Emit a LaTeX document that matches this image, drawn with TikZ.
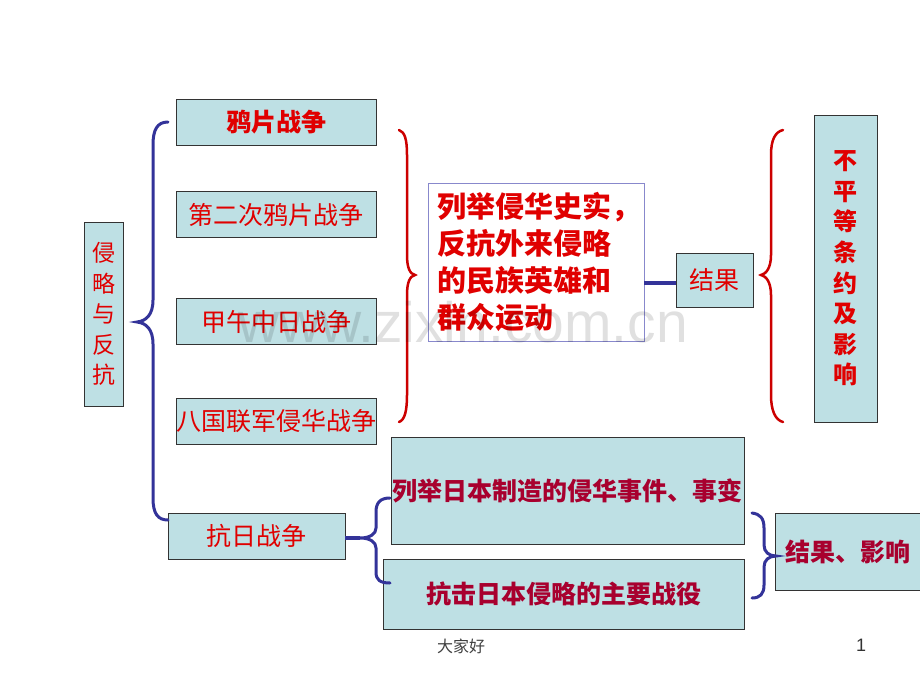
\documentclass[tikz,border=0pt]{standalone}
\usepackage{fontspec}
\setmainfont{Noto Sans CJK SC}
\newfontfamily\wmfont{Liberation Sans}
\definecolor{boxfill}{RGB}{190,224,228}
\definecolor{txtred}{HTML}{E00000}
\definecolor{txtdark}{HTML}{A8002E}
\definecolor{bluebr}{HTML}{333399}
\definecolor{redbr}{HTML}{CC0000}
\definecolor{lightframe}{HTML}{8888CC}
\tikzset{
  box/.style={draw=black!80, line width=0.8pt, fill=boxfill, inner sep=0pt, align=center},
  redtxt/.style={text=txtred},
  darktxt/.style={text=txtdark},
  bluebrace/.style={draw=bluebr, line width=3pt, line cap=round},
  redbrace/.style={draw=redbr, line width=2.5pt, line cap=round},
}
\begin{document}
\begin{tikzpicture}[x=1pt,y=-1pt]
\path[use as bounding box, fill=white] (0,0) rectangle (920,690);

% left column
\node[box, redtxt, minimum width=39pt, minimum height=184pt,
  font=\fontsize{23}{30.4}\selectfont] (qlfk) at (103.5,314) {侵\\略\\与\\反\\抗};
\node[box, redtxt, minimum width=200pt, minimum height=46pt,
  font=\fontsize{25}{30}\selectfont\bfseries] (ypzz) at (276,122) {鸦片战争};
\node[box, redtxt, minimum width=200pt, minimum height=46pt,
  font=\fontsize{25}{30}\selectfont] (decyp) at (276,214.5) {第二次鸦片战争};
\node[box, redtxt, minimum width=200pt, minimum height=46pt,
  font=\fontsize{25}{30}\selectfont] (jwzr) at (276,321.5) {甲午中日战争};
\node[box, redtxt, minimum width=200pt, minimum height=46pt,
  font=\fontsize{25}{30}\selectfont] (bglj) at (276,421) {八国联军侵华战争};
\node[box, redtxt, minimum width=177pt, minimum height=46pt,
  font=\fontsize{25}{30}\selectfont] (krzz) at (256.5,536) {抗日战争};

% middle top
\node[draw=lightframe, line width=0.8pt, fill=white, text=txtred, align=left,
  text width=198pt, inner xsep=9pt, inner ysep=0pt, minimum height=158pt,
  font=\fontsize{29}{36.7}\selectfont\bfseries] (lj) at (536,262)
  {列举侵华史实，\\反抗外来侵略\\的民族英雄和\\群众运动};
\node[box, redtxt, minimum width=77pt, minimum height=54pt,
  font=\fontsize{25}{30}\selectfont] (jg) at (714.5,280) {结果};
\node[box, redtxt, minimum width=63pt, minimum height=307pt,
  font=\fontsize{24}{30.6}\selectfont\bfseries] (bpd) at (845.5,268.5)
  {不\\平\\等\\条\\约\\及\\影\\响};

% bottom
\node[box, darktxt, minimum width=353pt, minimum height=107pt,
  font=\fontsize{25}{30}\selectfont\bfseries] (ljrb) at (567.5,490.5) {列举日本制造的侵华事件、事变};
\node[box, darktxt, minimum width=361pt, minimum height=70pt,
  font=\fontsize{25}{30}\selectfont\bfseries] (kjrb) at (563.5,594) {抗击日本侵略的主要战役};
\node[box, darktxt, minimum width=146pt, minimum height=77pt,
  font=\fontsize{25}{30}\selectfont\bfseries] (jgyx) at (848,551.5) {结果、影响};

% connectors
\coordinate (cjg) at ([yshift=-3pt]jg.west);
\draw[draw=bluebr, line width=4pt] (cjg -| lj.east) -- (cjg);
\coordinate (btip) at (360,538);
\draw[draw=bluebr, line width=4pt] (krzz.east |- btip) -- (btip);

% braces
\draw[bluebrace] (168,122) .. controls (157,122) and (153,130) .. (153,145) -- (153,300)
  .. controls (153,315) and (146,321) .. (137,322)
  .. controls (146,323) and (153,329) .. (153,344) -- (153,498)
  .. controls (153,514) and (158,520) .. (168,520);
\draw[redbrace] (399,130) .. controls (405,132) and (407,140) .. (407,155) -- (407,255)
  .. controls (407,268) and (410,274) .. (415,275)
  .. controls (410,276) and (407,282) .. (407,295) -- (407,395)
  .. controls (407,410) and (405,420) .. (399,422);
\draw[redbrace] (783,130) .. controls (775,132) and (771,140) .. (771,155) -- (771,255)
  .. controls (771,268) and (766,274) .. (761,275)
  .. controls (766,276) and (771,282) .. (771,295) -- (771,395)
  .. controls (771,410) and (775,420) .. (783,422);
\draw[bluebrace] (390,498) .. controls (380,498) and (376,503) .. (376,512) -- (376,528)
  .. controls (376,534) and (370,538) .. (btip)
  .. controls (370,538) and (376,542) .. (376,548) -- (376,572)
  .. controls (376,580) and (380,583) .. (390,583);
\draw[bluebrace] (752,513) .. controls (760,514) and (764,518) .. (764,528) -- (764,545)
  .. controls (764,552) and (769,556) .. (776,556)
  .. controls (769,556) and (764,560) .. (764,567) -- (764,585)
  .. controls (764,594) and (760,598) .. (752,598);

% watermark
\node[text=black, opacity=0.12, font=\wmfont\fontsize{57}{60}\selectfont, inner sep=0pt] (wm) at (463,322) {www.zixin.com.cn};

% footer
\node[text=black!75, font=\fontsize{16}{18}\selectfont, inner sep=0pt] (djh) at (461,646) {大家好};
\node[text=black!80, font=\wmfont\fontsize{18}{20}\selectfont, inner sep=0pt] (pg) at (861,645) {1};
\end{tikzpicture}
\end{document}
